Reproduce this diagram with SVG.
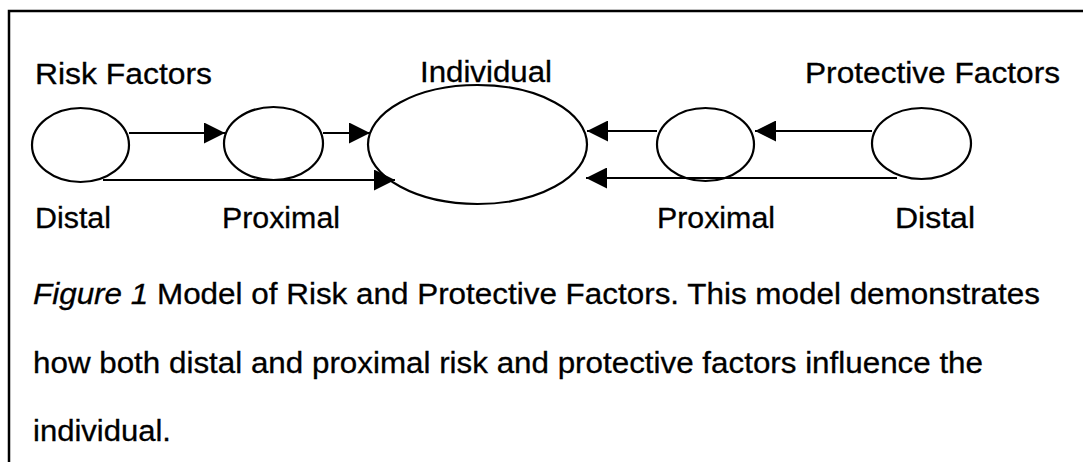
<svg xmlns="http://www.w3.org/2000/svg" width="1083" height="462" viewBox="0 0 1083 462">
<style>
text { font-family: "Liberation Sans", Arial, sans-serif; font-size: 29px; fill: #000; stroke: #000; stroke-width: 0.3; }
.node ellipse { fill: none; stroke: #000; stroke-width: 2.2; }
.conn line { stroke: #000; stroke-width: 2; marker-end: url(#ah); }
.frame { fill: none; stroke: #000; stroke-width: 2.5; }
</style>
<defs>
<marker id="ah" viewBox="0 0 20 20" refX="20" refY="10" markerWidth="21" markerHeight="21" markerUnits="userSpaceOnUse" orient="auto">
<path d="M0,0 L20,10 L0,20 Z" fill="#000"/>
</marker>
</defs>
<rect width="1083" height="462" fill="#fff"/>
<path class="frame" d="M9,462 V11 H1083"/>
<g id="risk-distal" class="node"><ellipse cx="80.5" cy="145" rx="48.5" ry="37"/></g>
<g id="risk-proximal" class="node"><ellipse cx="273.5" cy="143.5" rx="49.5" ry="36.5"/></g>
<g id="individual" class="node"><ellipse cx="477.5" cy="144.5" rx="109.5" ry="59.5"/></g>
<g id="protective-proximal" class="node"><ellipse cx="705.5" cy="144.5" rx="48.5" ry="36.5"/></g>
<g id="protective-distal" class="node"><ellipse cx="921.5" cy="143.5" rx="49.5" ry="35.5"/></g>
<g id="connectors" class="conn">
<line x1="129" y1="133" x2="225" y2="133"/>
<line x1="323" y1="133" x2="370" y2="133"/>
<line x1="103" y1="180" x2="395" y2="180"/>
<line x1="657" y1="131" x2="587" y2="131"/>
<line x1="872" y1="131" x2="755" y2="131"/>
<line x1="897" y1="178" x2="586" y2="178"/>
</g>
<g id="labels">
<text x="35" y="84" textLength="177" lengthAdjust="spacingAndGlyphs">Risk Factors</text>
<text x="420" y="82" textLength="132" lengthAdjust="spacingAndGlyphs">Individual</text>
<text x="805" y="83" textLength="255" lengthAdjust="spacingAndGlyphs">Protective Factors</text>
<text x="35" y="228" textLength="76" lengthAdjust="spacingAndGlyphs">Distal</text>
<text x="222" y="228" textLength="118" lengthAdjust="spacingAndGlyphs">Proximal</text>
<text x="657" y="228" textLength="118" lengthAdjust="spacingAndGlyphs">Proximal</text>
<text x="895" y="228" textLength="80" lengthAdjust="spacingAndGlyphs">Distal</text>
</g>
<g id="caption">
<text x="33" y="304" textLength="1007" lengthAdjust="spacingAndGlyphs"><tspan font-style="italic">Figure 1</tspan> Model of Risk and Protective Factors. This model demonstrates</text>
<text x="33" y="373" textLength="950" lengthAdjust="spacingAndGlyphs">how both distal and proximal risk and protective factors influence the</text>
<text x="33" y="441" textLength="138" lengthAdjust="spacingAndGlyphs">individual.</text>
</g>
</svg>
